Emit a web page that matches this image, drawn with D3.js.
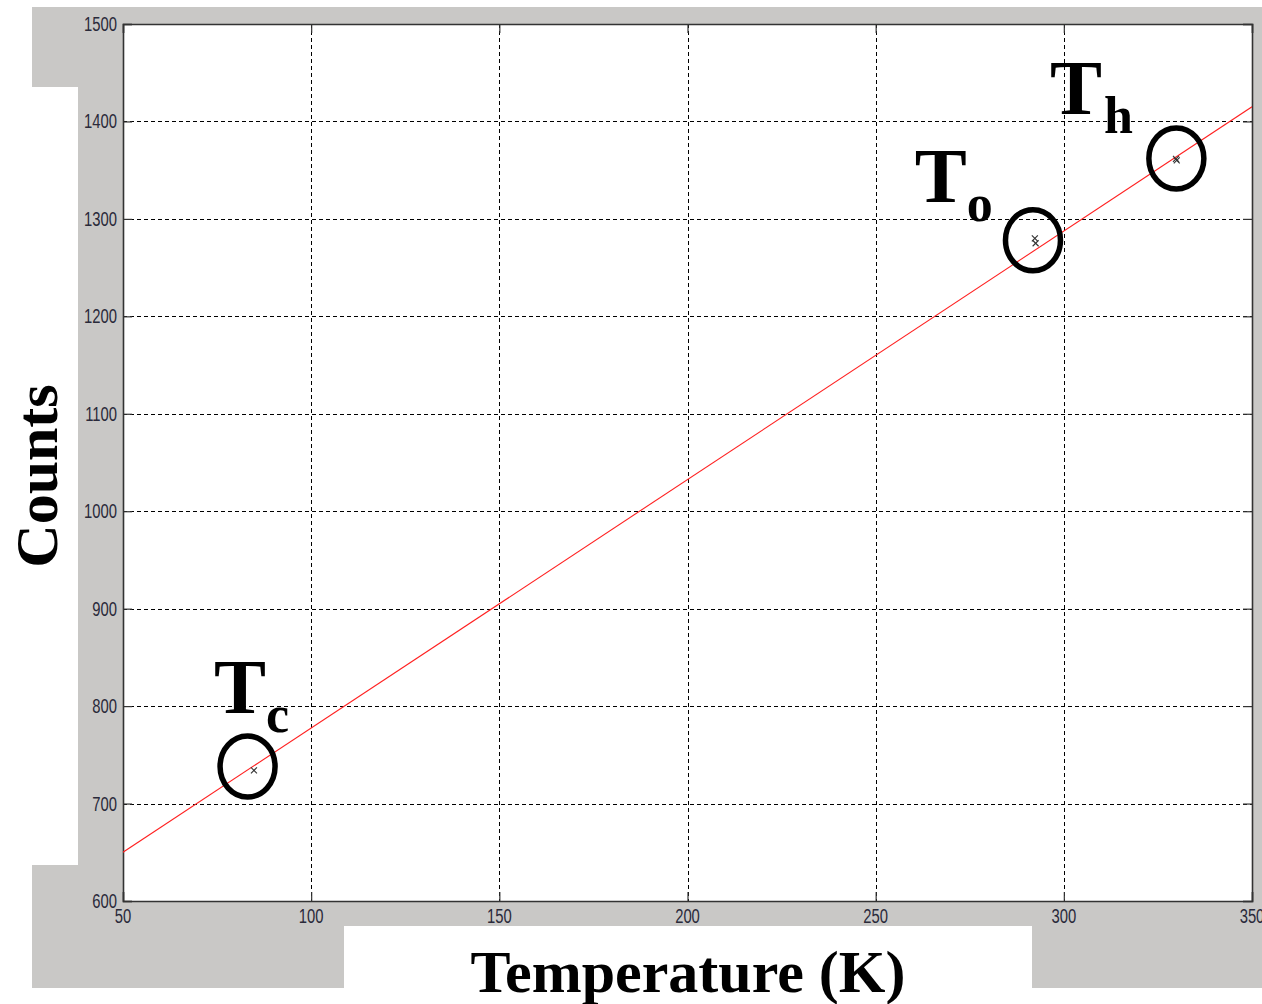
<!DOCTYPE html>
<html><head><meta charset="utf-8">
<script src="https://cdn.jsdelivr.net/npm/d3@7/dist/d3.min.js"></script>
<style>html,body{margin:0;padding:0;background:#fff;}svg{display:block;}</style>
</head><body>
<svg id="chart" width="1262" height="1004"></svg>
<script>
// ---- data ----
const xTicks = [50, 100, 150, 200, 250, 300, 350];
const yTicks = [600, 700, 800, 900, 1000, 1100, 1200, 1300, 1400, 1500];
const pointTemps  = [84.8, 292.3, 292.5, 329.8, 330.0];
const pointCounts = [734, 1280, 1275, 1361.5, 1360];
const fitTemps  = [50, 350];
const fitCounts = [650, 1415];
const markNames   = ["c", "o", "h"];
const markTemps   = [83.1, 291.8, 329.9];
const markCounts  = [738, 1278, 1362];
const labelTemps  = [74.2, 260.4, 296.3];
const labelCounts = [792.9, 1317.3, 1407.6];
const xLabel = "Temperature (K)";
const yLabel = "Counts";

const svg = d3.select("#chart");
const L = 123, R = 1252, T = 24, B = 901;
const x = d3.scaleLinear().domain([50, 350]).range([L, R]);
const y = d3.scaleLinear().domain([600, 1500]).range([B, T]);

// figure background (gray) with white cut-outs
svg.append("rect").attr("x", 32).attr("y", 7).attr("width", 1230).attr("height", 981).attr("fill", "#c9c8c6");
svg.append("rect").attr("x", 32).attr("y", 87).attr("width", 46).attr("height", 778).attr("fill", "#fff");
svg.append("rect").attr("x", 344).attr("y", 926).attr("width", 688).attr("height", 78).attr("fill", "#fff");

// axes area
svg.append("rect").attr("x", L).attr("y", T).attr("width", R - L).attr("height", B - T).attr("fill", "#fff");

// grid
const grid = svg.append("g").attr("stroke", "#000").attr("stroke-width", 1).attr("stroke-dasharray", "4,3");
grid.selectAll(".gx").data(xTicks.slice(1, -1)).join("line")
  .attr("x1", d => Math.round(x(d)) + 0.5).attr("x2", d => Math.round(x(d)) + 0.5)
  .attr("y1", T).attr("y2", B);
grid.selectAll(".gy").data(yTicks.slice(1, -1)).join("line")
  .attr("y1", d => Math.round(y(d)) + 0.5).attr("y2", d => Math.round(y(d)) + 0.5)
  .attr("x1", L).attr("x2", R);

// axes with inward ticks
const tl = 9;
const xb = svg.append("g").attr("transform", `translate(0,${B})`)
  .call(d3.axisBottom(x).tickValues(xTicks).tickSize(-tl).tickFormat(""));
const xt = svg.append("g").attr("transform", `translate(0,${T})`)
  .call(d3.axisTop(x).tickValues(xTicks).tickSize(-tl).tickFormat(""));
const yl = svg.append("g").attr("transform", `translate(${L},0)`)
  .call(d3.axisLeft(y).tickValues(yTicks).tickSize(-tl).tickFormat(""));
const yr = svg.append("g").attr("transform", `translate(${R},0)`)
  .call(d3.axisRight(y).tickValues(yTicks).tickSize(-tl).tickFormat(""));
[xb, xt, yl, yr].forEach(g => {
  g.selectAll("path.domain").attr("stroke", "#333").attr("stroke-width", 1.6);
  g.selectAll(".tick line").attr("stroke", "#333").attr("stroke-width", 1.2);
});

// tick labels (narrow Arial-like)
const tickFont = "'Liberation Sans', Arial, sans-serif";
svg.append("g").selectAll("text").data(yTicks).join("text")
  .attr("transform", d => `translate(117,${y(d) + 7}) scale(0.76,1)`)
  .attr("text-anchor", "end").attr("font-family", tickFont).attr("font-size", 19.5)
  .attr("fill", "#2a2a3a").text(d => d);
svg.append("g").selectAll("text").data(xTicks).join("text")
  .attr("transform", d => `translate(${x(d)},923) scale(0.76,1)`)
  .attr("text-anchor", "middle").attr("font-family", tickFont).attr("font-size", 19.5)
  .attr("fill", "#2a2a3a").text(d => d);

// clip for plot content
svg.append("clipPath").attr("id", "clip").append("rect")
  .attr("x", L).attr("y", T).attr("width", R - L).attr("height", B - T);

// fit line
svg.append("path").attr("clip-path", "url(#clip)")
  .datum(fitTemps.map((t, i) => [t, fitCounts[i]]))
  .attr("d", d3.line().x(d => x(d[0])).y(d => y(d[1])))
  .attr("fill", "none").attr("stroke", "#ff2020").attr("stroke-width", 1.1);

// data markers (x)
const mk = svg.append("g").attr("stroke", "#333").attr("stroke-width", 1.1);
pointTemps.forEach((t, i) => {
  const px = x(t), py = y(pointCounts[i]), s = 3;
  mk.append("line").attr("x1", px - s).attr("y1", py - s).attr("x2", px + s).attr("y2", py + s);
  mk.append("line").attr("x1", px - s).attr("y1", py + s).attr("x2", px + s).attr("y2", py - s);
});

// annotation circles
svg.append("g").selectAll("ellipse").data(markTemps).join("ellipse")
  .attr("cx", (d, i) => x(d)).attr("cy", (d, i) => y(markCounts[i]))
  .attr("rx", 27.5).attr("ry", 30.5)
  .attr("fill", "none").attr("stroke", "#000").attr("stroke-width", 5.5);

// annotation labels
const serif = "'Liberation Serif', 'Times New Roman', serif";
markNames.forEach((n, i) => {
  const t = svg.append("text")
    .attr("x", x(labelTemps[i])).attr("y", y(labelCounts[i]))
    .attr("font-family", serif).attr("font-weight", "bold").attr("fill", "#000");
  t.append("tspan").attr("font-size", 78).text("T");
  t.append("tspan").attr("font-size", 52).attr("dy", 19).attr("dx", n === "h" ? 2 : 0).text(n);
});

// axis labels
svg.append("text").attr("x", 688).attr("y", 992).attr("text-anchor", "middle")
  .attr("font-family", serif).attr("font-weight", "bold").attr("font-size", 60)
  .attr("fill", "#000").text(xLabel);
svg.append("text").attr("transform", "translate(57,476) rotate(-90)").attr("text-anchor", "middle")
  .attr("font-family", serif).attr("font-weight", "bold").attr("font-size", 60)
  .attr("fill", "#000").text(yLabel);
</script>
</body></html>
